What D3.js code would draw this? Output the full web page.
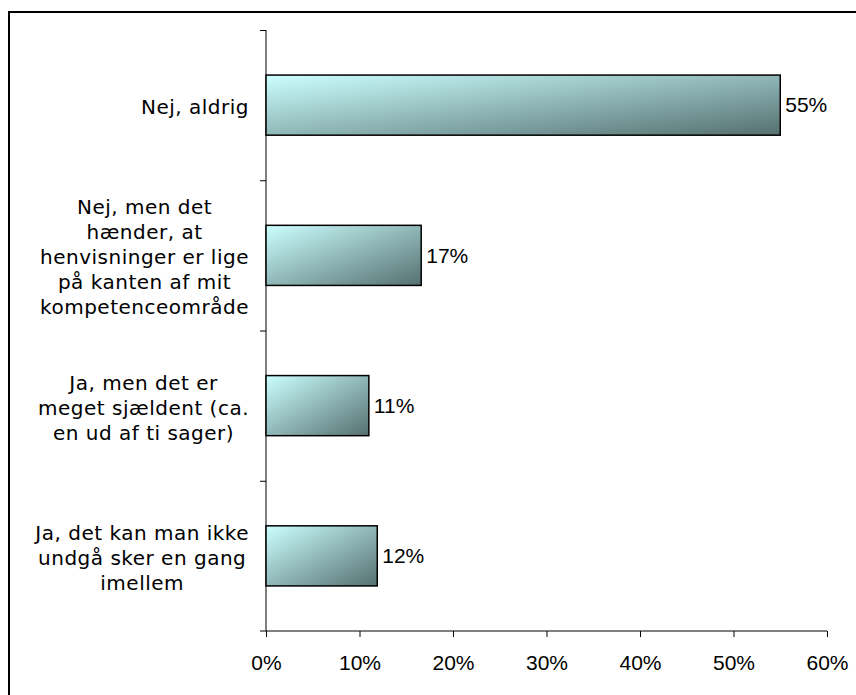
<!DOCTYPE html>
<html>
<head>
<meta charset="utf-8">
<script src="https://cdn.jsdelivr.net/npm/d3@7"></script>
<style>
  body { margin: 0; background: #fff; }
  svg { display: block; }
</style>
</head>
<body>
<div id="chart-area"></div>
<script>
// answers and shares (fractions)
let categories = [
  ["Nej, aldrig"],
  ["Nej, men det", "hænder, at", "henvisninger er lige", "på kanten af mit", "kompetenceområde"],
  ["Ja, men det er", "meget sjældent (ca.", "en ud af ti sager)"],
  ["Ja, det kan man ikke", "undgå sker en gang", "imellem"]
]
let values = [0.55, 0.166, 0.11, 0.119]
let valueLabels = ["55%", "17%", "11%", "12%"]
let xTicks = [0, 0.1, 0.2, 0.3, 0.4, 0.5, 0.6]

let width = 856, height = 695
let margin = { top: 30, right: 29, bottom: 64, left: 266 }
let canvasWidth = width - margin.left - margin.right
let canvasHeight = height - margin.top - margin.bottom

let svg = d3.select("#chart-area").append("svg")
  .attr("width", width)
  .attr("height", height)

// outer frame, runs off the right and bottom edges
svg.append("rect")
  .attr("x", 9).attr("y", 12)
  .attr("width", 900).attr("height", 750)
  .attr("fill", "none")
  .attr("stroke", "#000")
  .attr("stroke-width", 2)

let defs = svg.append("defs")
let grad = defs.append("linearGradient")
  .attr("id", "barGrad")
  .attr("x1", 0).attr("y1", 0).attr("x2", 1).attr("y2", 1)
grad.append("stop").attr("offset", "0%").attr("stop-color", "#ccffff")
grad.append("stop").attr("offset", "100%").attr("stop-color", "#557070")

let g = svg.append("g")
  .attr("transform", "translate(" + margin.left + ", " + margin.top + ")")

let idx = categories.map((c, i) => i)

let y = d3.scaleBand()
  .domain(idx)
  .range([0, canvasHeight])
  .paddingInner(0.6)
  .paddingOuter(0.3)

let yBound = d3.scaleLinear()
  .domain([0, categories.length])
  .range([0, canvasHeight])

let x = d3.scaleLinear()
  .domain([0, 0.6])
  .range([0, canvasWidth])

// x axis
let xAxis = g.append("g")
  .attr("transform", "translate(0, " + canvasHeight + ")")
  .call(d3.axisBottom(x)
    .tickValues(xTicks)
    .tickFormat(d3.format(".0%"))
    .tickSize(6)
    .tickSizeOuter(0))
xAxis.select(".domain").attr("d", "M-6,0H" + canvasWidth)
xAxis.selectAll("text")
  .attr("font-family", "Liberation Sans, Arial, sans-serif")
  .attr("font-size", "21px")
  .attr("fill", "#000")
  .attr("dy", "1.45em")

// y axis: line with ticks at category boundaries
g.append("line")
  .attr("x1", 0).attr("x2", 0)
  .attr("y1", 0).attr("y2", canvasHeight)
  .attr("stroke", "#000")
g.selectAll(".ytick")
  .data(d3.range(categories.length))
  .enter()
  .append("line")
    .attr("class", "ytick")
    .attr("x1", -6).attr("x2", 0)
    .attr("y1", d => yBound(d) + 0.5)
    .attr("y2", d => yBound(d) + 0.5)
    .attr("stroke", "#000")

// bars
g.selectAll("rect.bar")
  .data(values)
  .enter()
  .append("rect")
    .attr("class", "bar")
    .attr("x", 0)
    .attr("y", (d, i) => y(i))
    .attr("width", d => x(d))
    .attr("height", y.bandwidth())
    .attr("fill", "url(#barGrad)")
    .attr("stroke", "#000")
    .attr("stroke-width", 1.5)

// value labels
g.selectAll("text.val")
  .data(values)
  .enter()
  .append("text")
    .attr("class", "val")
    .attr("x", d => x(d) + 5)
    .attr("y", (d, i) => y(i) + y.bandwidth() / 2)
    .attr("dy", "0.35em")
    .attr("font-family", "Liberation Sans, Arial, sans-serif")
    .attr("font-size", "21px")
    .text((d, i) => valueLabels[i])

// category labels: centred lines, block right aligned against the axis
let lineH = 25
let rightEdge = -17
categories.forEach((lines, i) => {
  let cy = y(i) + y.bandwidth() / 2 + 2
  let t = g.append("text")
    .attr("font-family", "DejaVu Sans, Verdana, sans-serif")
    .attr("font-size", "20px")
    .attr("letter-spacing", "0.5px")
    .attr("text-anchor", "middle")
    .attr("fill", "#000")
  let spans = lines.map((l, j) => t.append("tspan")
    .attr("y", cy + (j - (lines.length - 1) / 2) * lineH)
    .attr("dy", "0.35em")
    .text(l))
  let maxW = d3.max(spans, s => s.node().getComputedTextLength())
  spans.forEach(s => s.attr("x", rightEdge - maxW / 2))
})
</script>
</body>
</html>
